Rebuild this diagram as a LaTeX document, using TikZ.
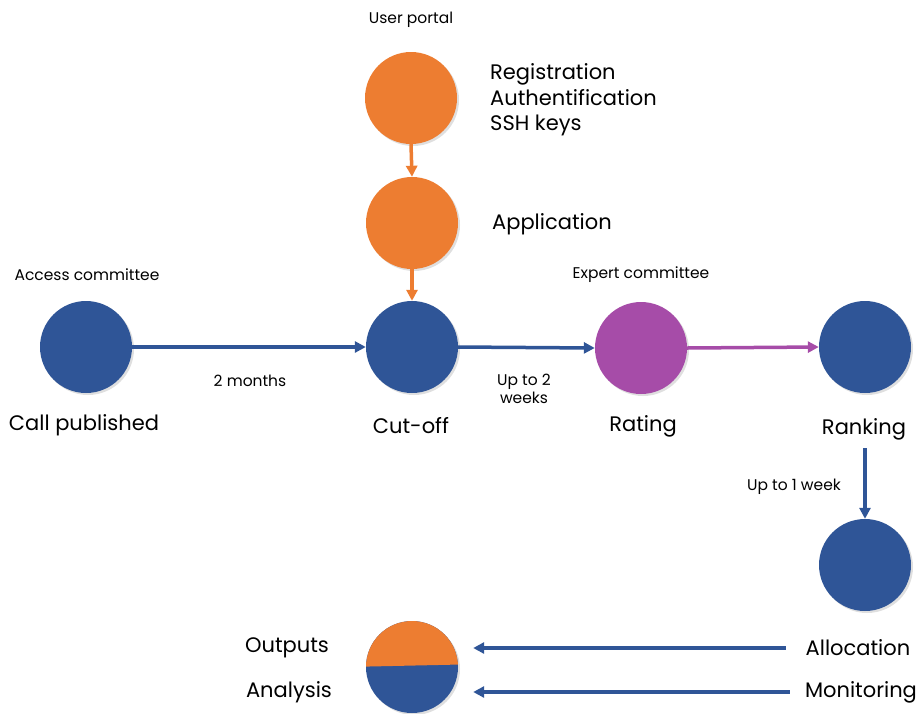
\documentclass[tikz,border=0pt]{standalone}
\usepackage{fontspec}
\setmainfont{Poppins}
\usetikzlibrary{arrows.meta,shadows}
\definecolor{corange}{HTML}{ED7D31}
\definecolor{cblue}{HTML}{2F5597}
\definecolor{cpurple}{HTML}{A64CA8}
\tikzset{
  dot/.style={circle,minimum size=92pt,inner sep=0pt,fill=#1,
    drop shadow={opacity=0.25,shadow xshift=2pt,shadow yshift=-2pt}},
  big/.style={font=\fontsize{21}{25}\selectfont,inner sep=0pt},
  small/.style={font=\fontsize{15.5}{18}\selectfont,inner sep=0pt},
  conn/.style={line width=3.5pt,draw=#1,-{Triangle[length=11pt,width=11pt]}},
}
\begin{document}
\begin{tikzpicture}[x=1pt,y=-1pt]
\useasboundingbox (0,0) rectangle (919,713);
% circles
\node[dot=corange] (portal) at (411,98) {};
\node[dot=corange] (appl) at (412,223) {};
\node[dot=cblue] (call) at (86,347) {};
\node[dot=cblue] (cut) at (412,347) {};
\node[dot=cpurple] (rate) at (641,348) {};
\node[dot=cblue] (rank) at (865,347) {};
\node[dot=cblue] (alloccirc) at (865,565) {};
\node[dot=cblue] (split) at (412,667) {};
\begin{scope}
  \clip (412,667) circle (46pt);
  \fill[corange] (360,610) -- (470,610) -- (470,664.3) -- (360,666.7) -- cycle;
\end{scope}
% labels
\node[small] (lportal) at (411,20) {User portal};
\node[big,align=left,anchor=west,font=\fontsize{21}{25.5}\selectfont] (lreg) at (490,100) {Registration\\Authentification\\SSH keys};
\node[big,anchor=west] (lappl) at (492,224) {Application};
\node[small] (lacc) at (87,275) {Access committee};
\node[small] (lexp) at (641,275) {Expert committee};
\node[small] (l2m) at (250,381) {2 months};
\node[small,align=center,font=\fontsize{15.5}{18}\selectfont] (l2w) at (524,389) {Up to 2\\weeks};
\node[big] (lcall) at (84,425) {Call published};
\node[big] (lcut) at (411,426) {Cut-off};
\node[big] (lrate) at (643,426) {Rating};
\node[big] (lrank) at (864,429) {Ranking};
\node[small] (l1w) at (794,487) {Up to 1 week};
\node[big] (lout) at (287,648) {Outputs};
\node[big] (lana) at (289,692) {Analysis};
\node[big] (lalloc) at (858,648) {Allocation};
\node[big] (lmon) at (861,692) {Monitoring};
% connectors
\draw[conn=corange] (portal.south) -- (appl.north);
\draw[conn=corange] (appl.south) -- (cut.north);
\draw[conn=cblue] (call.east) -- (cut.west);
\draw[conn=cblue] (cut.east) -- (rate.west);
\draw[conn=cpurple] (rate.east) -- (rank.west);
\draw[conn=cblue,shorten <=8pt] (lrank.south -| rank) -- (alloccirc.north);
\draw[conn=cblue,shorten <=20pt,shorten >=15pt] (lalloc.west) -- (lalloc.west -| split.east);
\draw[conn=cblue,shorten <=15pt,shorten >=15pt] (lmon.west) -- (lmon.west -| split.east);
\end{tikzpicture}
\end{document}
